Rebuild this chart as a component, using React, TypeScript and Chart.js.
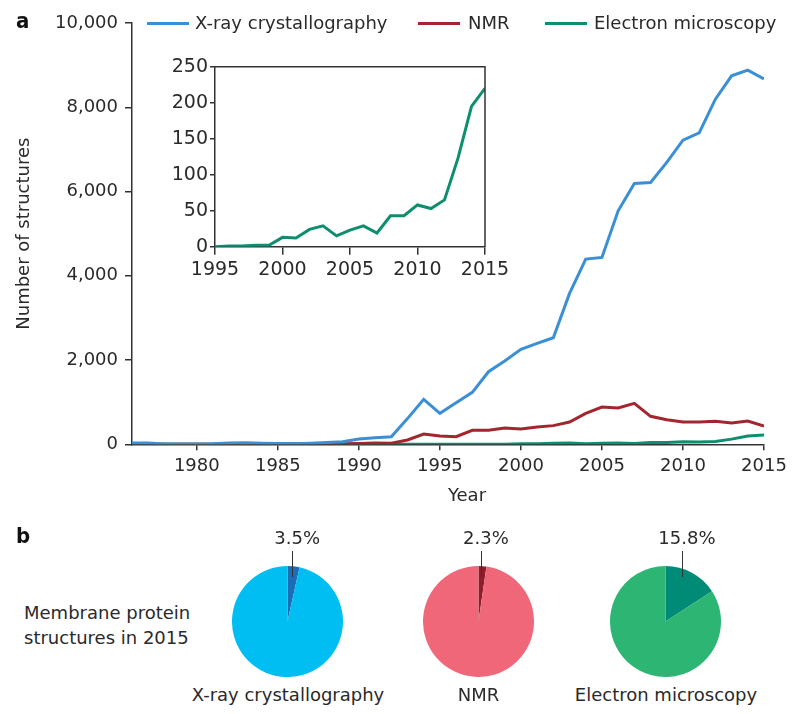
import React, { useEffect, useRef } from 'react';
import { Chart, registerables } from 'chart.js';

Chart.register(...registerables);

// ---------- DATA ----------
const years = [
  1976, 1977, 1978, 1979, 1980, 1981, 1982, 1983, 1984, 1985,
  1986, 1987, 1988, 1989, 1990, 1991, 1992, 1993, 1994, 1995,
  1996, 1997, 1998, 1999, 2000, 2001, 2002, 2003, 2004, 2005,
  2006, 2007, 2008, 2009, 2010, 2011, 2012, 2013, 2014, 2015,
];
const xray = [
  30, 30, 10, 10, 10, 15, 30, 35, 25, 20,
  15, 25, 40, 60, 126, 157, 180, 610, 1067, 735,
  987, 1233, 1723, 1976, 2253, 2396, 2530, 3582, 4396, 4436,
  5542, 6192, 6216, 6690, 7219, 7393, 8192, 8745, 8880, 8674,
];
const nmr = [
  0, 0, 0, 0, 0, 0, 5, 5, 5, 5,
  5, 5, 10, 15, 20, 30, 25, 102, 244, 197,
  182, 332, 332, 387, 363, 411, 443, 530, 735, 885,
  861, 972, 664, 585, 530, 530, 545, 506, 553, 435,
];
const em = [
  0, 0, 0, 0, 0, 0, 0, 0, 0, 0,
  0, 0, 0, 0, 0, 0, 0, 0, 0, 0,
  1, 1, 2, 2, 13, 12, 24, 29, 15, 23,
  29, 19, 43, 43, 58, 53, 65, 123, 195, 220,
];
const seriesNames = ['X-ray crystallography', 'NMR', 'Electron microscopy'];
const xTicks = [1980, 1985, 1990, 1995, 2000, 2005, 2010, 2015];
const yTicks = [0, 2000, 4000, 6000, 8000, 10000];
const insetYears = years.filter((y) => y >= 1995);
const insetEm = em.slice(years.indexOf(1995));
const insetXTicks = [1995, 2000, 2005, 2010, 2015];
const insetYTicks = [0, 50, 100, 150, 200, 250];
const pieShares = [3.5, 2.3, 15.8];
const pieNames = ['X-ray crystallography', 'NMR', 'Electron microscopy'];

// ---------- STYLE ----------
const FONT = '"DejaVu Sans", sans-serif';
const TEXT = '#2a2a2a';
const AXIS = '#333333';
const lineColors = ['#3a8fd5', '#a3262f', '#0d8f6f'];
const pieLight = ['#00bdf2', '#f0677a', '#2db673'];
const pieDark = ['#1c6db6', '#8c1f2b', '#008b76'];

const MAIN_W = 800;
const MAIN_H = 510;
const PIE_R = 55.5;
const PIE_CY = 621.3;
const pieCx = [287.5, 478, 665.5];

const framePlugin = {
  id: 'frame',
  afterDraw(chart: any) {
    const { ctx, chartArea } = chart;
    ctx.save();
    ctx.strokeStyle = AXIS;
    ctx.lineWidth = 1.5;
    ctx.beginPath();
    ctx.moveTo(chartArea.left, chartArea.top);
    ctx.lineTo(chartArea.right, chartArea.top);
    ctx.lineTo(chartArea.right, chartArea.bottom);
    ctx.stroke();
    ctx.restore();
  },
};

export default function App() {
  const mainRef = useRef<HTMLCanvasElement>(null);
  const insetRef = useRef<HTMLCanvasElement>(null);
  const pieRefs = [useRef<HTMLCanvasElement>(null), useRef<HTMLCanvasElement>(null), useRef<HTMLCanvasElement>(null)];

  useEffect(() => {
    document.body.style.margin = '0';
    const charts: Chart[] = [];
    const seriesData = [xray, nmr, em];

    charts.push(
      new Chart(mainRef.current!, {
        type: 'line',
        data: {
          datasets: seriesData.map((vals, i) => ({
            label: seriesNames[i],
            data: years.map((y, j) => ({ x: y, y: vals[j] })),
            borderColor: lineColors[i],
            borderWidth: 3,
            pointRadius: 0,
            tension: 0,
            fill: false,
          })),
        },
        options: {
          animation: false,
          responsive: false,
          events: [],
          layout: { padding: { left: 0, top: 23, right: 36, bottom: 0 } },
          plugins: { legend: { display: false }, tooltip: { enabled: false } },
          scales: {
            x: {
              type: 'linear',
              min: 1976,
              max: 2015,
              afterBuildTicks: (s: any) => {
                s.ticks = xTicks.map((v) => ({ value: v }));
              },
              afterFit: (s: any) => {
                s.height = MAIN_H - 444.3;
              },
              grid: { drawOnChartArea: false, tickLength: 6, color: AXIS, lineWidth: 1.5 },
              border: { color: AXIS, width: 1.5 },
              ticks: {
                autoSkip: false,
                maxRotation: 0,
                padding: 5,
                color: TEXT,
                font: { family: FONT, size: 18 },
                callback: (v: any) => String(v),
              },
            },
            y: {
              min: 0,
              max: 10000,
              afterBuildTicks: (s: any) => {
                s.ticks = yTicks.map((v) => ({ value: v }));
              },
              afterFit: (s: any) => {
                s.width = 132;
              },
              grid: { drawOnChartArea: false, tickLength: 7, color: AXIS, lineWidth: 1.5 },
              border: { color: AXIS, width: 1.5 },
              title: {
                display: true,
                text: 'Number of structures',
                color: TEXT,
                font: { family: FONT, size: 18 },
                padding: { top: 14, bottom: 0 },
              },
              ticks: {
                padding: 7,
                color: TEXT,
                font: { family: FONT, size: 18 },
                callback: (v: any) => Number(v).toLocaleString('en-US'),
              },
            },
          },
        },
      } as any)
    );

    charts.push(
      new Chart(insetRef.current!, {
        type: 'line',
        data: {
          datasets: [
            {
              label: seriesNames[2],
              data: insetYears.map((y, j) => ({ x: y, y: insetEm[j] })),
              borderColor: lineColors[2],
              borderWidth: 3,
              pointRadius: 0,
              tension: 0,
              fill: false,
            },
          ],
        },
        options: {
          animation: false,
          responsive: false,
          events: [],
          layout: { padding: { left: 0, top: 26.7, right: 35, bottom: 0 } },
          plugins: { legend: { display: false }, tooltip: { enabled: false } },
          scales: {
            x: {
              type: 'linear',
              min: 1995,
              max: 2015,
              afterBuildTicks: (s: any) => {
                s.ticks = insetXTicks.map((v) => ({ value: v }));
              },
              afterFit: (s: any) => {
                s.height = 250 - 206.7;
              },
              grid: { drawOnChartArea: false, tickLength: 8, color: AXIS, lineWidth: 1.5 },
              border: { color: AXIS, width: 1.5 },
              ticks: {
                autoSkip: false,
                maxRotation: 0,
                padding: 4,
                color: TEXT,
                font: { family: FONT, size: 19 },
                callback: (v: any) => String(v),
              },
            },
            y: {
              min: 0,
              max: 250,
              afterBuildTicks: (s: any) => {
                s.ticks = insetYTicks.map((v) => ({ value: v }));
              },
              afterFit: (s: any) => {
                s.width = 55;
              },
              grid: { drawOnChartArea: false, tickLength: 5, color: AXIS, lineWidth: 1.5 },
              border: { color: AXIS, width: 1.5 },
              ticks: {
                padding: 2,
                color: TEXT,
                font: { family: FONT, size: 19 },
              },
            },
          },
        },
        plugins: [framePlugin],
      } as any)
    );

    pieShares.forEach((share, i) => {
      charts.push(
        new Chart(pieRefs[i].current!, {
          type: 'pie',
          data: {
            labels: ['Membrane proteins', 'Other'],
            datasets: [
              {
                data: [share, 100 - share],
                backgroundColor: [pieDark[i], pieLight[i]],
                borderWidth: 0,
                hoverOffset: 0,
              },
            ],
          },
          options: {
            animation: false,
            responsive: false,
            events: [],
            layout: { padding: 0 },
            plugins: { legend: { display: false }, tooltip: { enabled: false } },
          },
        } as any)
      );
    });

    return () => charts.forEach((c) => c.destroy());
  }, []);

  const textStyle: React.CSSProperties = {
    position: 'absolute',
    fontFamily: FONT,
    fontSize: 18,
    color: TEXT,
    whiteSpace: 'nowrap',
    lineHeight: '22px',
  };

  const legendX = [
    { line: 147, text: 195 },
    { line: 418, text: 468 },
    { line: 545, text: 594 },
  ];

  return (
    <div style={{ position: 'relative', width: 800, height: 714, background: '#fff', overflow: 'hidden' }}>
      <canvas ref={mainRef} width={MAIN_W} height={MAIN_H} style={{ position: 'absolute', left: 0, top: 0 }} />
      <canvas ref={insetRef} width={360} height={250} style={{ position: 'absolute', left: 160, top: 40 }} />

      {/* panel letters */}
      <div style={{ ...textStyle, left: 16, top: 10, fontFamily: '"Liberation Sans Narrow", "DejaVu Sans Condensed", sans-serif', fontWeight: 'bold', fontSize: 22, color: '#111' }}>a</div>
      <div style={{ ...textStyle, left: 16, top: 525, fontFamily: '"Liberation Sans Narrow", "DejaVu Sans Condensed", sans-serif', fontWeight: 'bold', fontSize: 22, color: '#111' }}>b</div>

      {/* legend */}
      {seriesNames.map((name, i) => (
        <React.Fragment key={name}>
          <div style={{ position: 'absolute', left: legendX[i].line, top: 22, width: 42, height: 3, background: lineColors[i] }} />
          <div style={{ ...textStyle, left: legendX[i].text, top: 12 }}>{name}</div>
        </React.Fragment>
      ))}

      {/* x axis title */}
      <div style={{ ...textStyle, left: 467, top: 484, transform: 'translateX(-50%)' }}>Year</div>

      {/* panel b */}
      <div style={{ ...textStyle, left: 24, top: 600, lineHeight: '25px' }}>
        Membrane protein
        <br />
        structures in 2015
      </div>
      {pieShares.map((share, i) => {
        const cx = pieCx[i];
        const mid = ((share / 100) * Math.PI);
        const k = i === 2 ? 0.64 : 0.85;
        const lx = cx + Math.sin(mid) * PIE_R * k;
        return (
          <React.Fragment key={i}>
            <canvas
              ref={pieRefs[i]}
              width={PIE_R * 2}
              height={PIE_R * 2}
              style={{ position: 'absolute', left: cx - PIE_R, top: PIE_CY - PIE_R, width: PIE_R * 2, height: PIE_R * 2 }}
            />
            <div style={{ position: 'absolute', left: lx - 0.6, top: 550.5, width: 1.2, height: 26, background: '#333' }} />
            <div style={{ ...textStyle, left: lx + 4.5, top: 527, transform: 'translateX(-50%)' }}>{share.toFixed(1)}%</div>
            <div style={{ ...textStyle, left: cx + 0.5, top: 684, transform: 'translateX(-50%)' }}>{pieNames[i]}</div>
          </React.Fragment>
        );
      })}
    </div>
  );
}
